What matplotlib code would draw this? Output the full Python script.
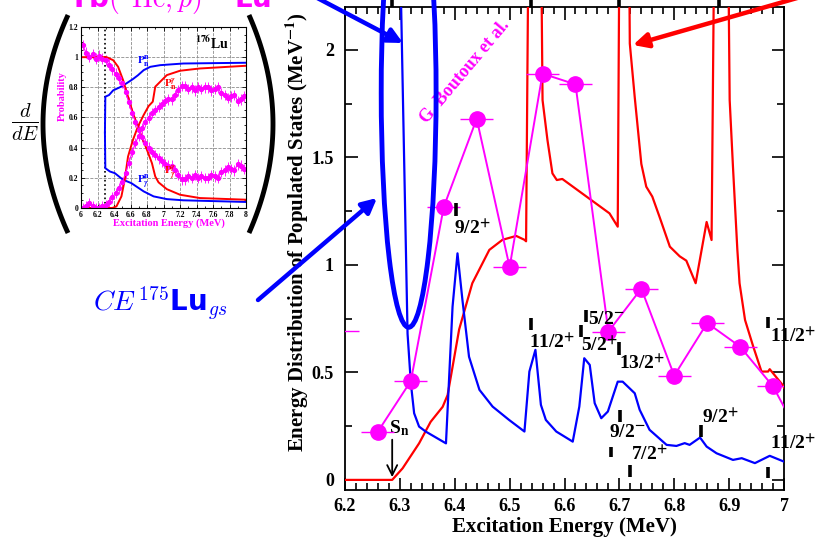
import matplotlib
matplotlib.use('Agg')
import matplotlib.pyplot as plt
from matplotlib.patches import Ellipse
from matplotlib.ticker import MultipleLocator, FuncFormatter
import numpy as np

plt.rcParams['font.family'] = ['Liberation Serif', 'DejaVu Serif']
plt.rcParams['font.weight'] = 'bold'
plt.rcParams['mathtext.fontset'] = 'custom'
plt.rcParams['mathtext.rm'] = 'cmr10'
plt.rcParams['mathtext.it'] = 'cmmi10'
plt.rcParams['mathtext.bf'] = 'DejaVu Sans:bold'

RED = '#ff0000'
BLUE = '#0000ff'
MAG = '#ff00ff'

# ---- main panel data ----
# measured distribution (G. Boutoux et al.)
exp_e = [6.26, 6.32, 6.38, 6.44, 6.50, 6.56, 6.62, 6.68, 6.74, 6.80, 6.86, 6.92, 6.98, 7.04]
exp_d = [0.225, 0.46, 1.27, 1.68, 0.99, 1.89, 1.84, 0.69, 0.89, 0.485, 0.73, 0.62, 0.435, 0.15]
exp_xerr = 0.03
exp_yerr = 0.015
# lone point below 6.2 MeV, only its error bar shows
left_e = [6.18]
left_d = [0.695]

# d/dE of P_n^gamma
red_e = [6.20, 6.286, 6.305, 6.335, 6.356, 6.378, 6.387, 6.408, 6.432, 6.463, 6.487, 6.512,
         6.527, 6.530, 6.545, 6.560, 6.569, 6.578, 6.586, 6.596, 6.682, 6.697, 6.708, 6.719,
         6.728, 6.740, 6.749, 6.760, 6.773, 6.792, 6.810, 6.822, 6.839, 6.859, 6.868, 6.885,
         6.901, 6.907, 6.915, 6.919, 6.929, 6.944, 6.959, 6.971, 6.974, 6.998, 7.00]
red_d = [0.0, 0.0, 0.054, 0.17, 0.27, 0.34, 0.395, 0.70, 0.915, 1.07, 1.117, 1.135,
         1.117, 1.11, 6.0, 1.767, 1.58, 1.426, 1.395, 1.40, 1.24, 1.178, 6.0, 2.03,
         1.78, 1.47, 1.364, 1.318, 1.225, 1.085, 1.04, 1.02, 0.915, 1.20, 1.116, 6.0,
         1.767, 1.457, 1.07, 0.915, 0.744, 0.62, 0.504, 0.504, 0.515, 0.44, 0.43]

# d/dE of CE 175Lu gs
blue_e = [6.300, 6.314, 6.320, 6.326, 6.335, 6.347, 6.384, 6.396, 6.405, 6.414, 6.426, 6.445,
          6.469, 6.499, 6.527, 6.536, 6.547, 6.557, 6.566, 6.585, 6.615, 6.627, 6.636, 6.646,
          6.655, 6.667, 6.679, 6.697, 6.706, 6.728, 6.737, 6.755, 6.786, 6.804, 6.819, 6.828,
          6.847, 6.859, 6.877, 6.907, 6.923, 6.947, 6.974, 7.000]
blue_d = [2.5, 0.68, 0.45, 0.31, 0.248, 0.225, 0.17, 0.806, 1.054, 0.837, 0.573, 0.419,
          0.341, 0.279, 0.225, 0.504, 0.605, 0.349, 0.279, 0.225, 0.178, 0.341, 0.566, 0.535,
          0.357, 0.287, 0.318, 0.457, 0.457, 0.403, 0.326, 0.233, 0.163, 0.158, 0.171, 0.163,
          0.197, 0.155, 0.124, 0.093, 0.101, 0.078, 0.112, 0.085]

# level markers: energy, bar bottom, bar top
lev_e = [6.402, 6.539, 6.640, 6.630, 6.699, 6.702, 6.684, 6.719, 6.849, 6.971, 6.971]
lev_lo = [1.228, 0.698, 0.735, 0.665, 0.581, 0.271, 0.108, 0.015, 0.200, 0.707, 0.009]
lev_hi = [1.288, 0.753, 0.790, 0.721, 0.643, 0.326, 0.155, 0.070, 0.256, 0.758, 0.060]
lev_top = [6.286, 6.539, 6.699, 6.882]

# spin labels: text, x, y
spin_txt = ['9/2$^{\\mathbf{+}}$', '11/2$^{\\mathbf{+}}$', '5/2$^{\\mathbf{-}}$', '5/2$^{\\mathbf{+}}$',
            '13/2$^{\\mathbf{+}}$', '9/2$^{\\mathbf{-}}$', '7/2$^{\\mathbf{+}}$', '9/2$^{\\mathbf{+}}$',
            '11/2$^{\\mathbf{+}}$', '11/2$^{\\mathbf{+}}$']
spin_x = [6.399, 6.536, 6.642, 6.630, 6.700, 6.682, 6.722, 6.850, 6.974, 6.974]
spin_y = [1.167, 0.637, 0.744, 0.623, 0.535, 0.219, 0.112, 0.288, 0.665, 0.163]

sn = 6.286

# ---- inset data (176Lu decay probabilities) ----
pnn_e = [6.29, 6.295, 6.34, 6.39, 6.47, 6.55, 6.63, 6.69, 6.76, 6.84, 6.96, 7.24, 8.0]
pnn_p = [0.50, 0.738, 0.749, 0.78, 0.80, 0.826, 0.855, 0.88, 0.914, 0.936, 0.947, 0.958, 0.963]
pgn_e = [6.29, 6.295, 6.35, 6.41, 6.51, 6.61, 6.67, 6.76, 6.88, 7.04, 7.24, 8.0]
pgn_p = [0.50, 0.264, 0.242, 0.231, 0.187, 0.165, 0.143, 0.11, 0.077, 0.059, 0.051, 0.04]
pgg_e = [6.0, 6.31, 6.39, 6.45, 6.51, 6.57, 6.63, 6.69, 6.735, 6.80, 6.86, 6.90, 6.94,
         7.04, 7.20, 7.44, 8.0]
pgg_p = [1.0, 1.0, 0.98, 0.936, 0.848, 0.738, 0.628, 0.54, 0.474, 0.385, 0.297, 0.209, 0.17,
         0.125, 0.088, 0.066, 0.055]
png_e = [6.0, 6.38, 6.43, 6.49, 6.53, 6.57, 6.63, 6.69, 6.76, 6.82, 6.87, 6.90, 6.94,
         7.04, 7.20, 7.44, 8.0]
png_p = [0.0, 0.0, 0.011, 0.077, 0.187, 0.341, 0.452, 0.54, 0.617, 0.676, 0.705, 0.804, 0.826,
         0.881, 0.91, 0.925, 0.943]

meas_e = [6.02, 6.06, 6.10, 6.14, 6.18, 6.22, 6.26, 6.30, 6.34, 6.38, 6.42, 6.46, 6.50,
          6.54, 6.58, 6.62, 6.66, 6.70, 6.74, 6.78, 6.82, 6.86, 6.90, 6.94, 6.98, 7.02,
          7.06, 7.10, 7.14, 7.18, 7.22, 7.26, 7.30, 7.34, 7.38, 7.42, 7.46, 7.50, 7.54,
          7.58, 7.62, 7.66, 7.70, 7.74, 7.78, 7.82, 7.86, 7.90, 7.94, 7.98]
meas_pg = [1.08, 1.03, 1.00, 1.02, 0.99, 1.01, 0.99, 0.98, 0.95, 0.92, 0.89, 0.86, 0.83,
           0.77, 0.70, 0.63, 0.57, 0.52, 0.47, 0.43, 0.40, 0.37, 0.35, 0.33, 0.31, 0.29,
           0.28, 0.28, 0.25, 0.22, 0.19, 0.19, 0.21, 0.20, 0.22, 0.20, 0.21, 0.20, 0.20,
           0.22, 0.21, 0.20, 0.24, 0.25, 0.27, 0.26, 0.25, 0.29, 0.28, 0.26]
meas_pn = [0.00, 0.01, 0.03, 0.01, 0.00, 0.00, 0.01, 0.02, 0.04, 0.07, 0.10, 0.13, 0.17,
           0.23, 0.30, 0.37, 0.43, 0.48, 0.53, 0.57, 0.60, 0.63, 0.65, 0.67, 0.69, 0.71,
           0.72, 0.72, 0.75, 0.78, 0.81, 0.81, 0.79, 0.80, 0.78, 0.80, 0.79, 0.80, 0.80,
           0.78, 0.79, 0.80, 0.76, 0.75, 0.73, 0.74, 0.75, 0.71, 0.72, 0.74]

W, H = 818, 542
fig = plt.figure(figsize=(W / 100, H / 100), dpi=100)
fmt = FuncFormatter(lambda v, p: '%g' % round(v, 3))

# ---------------- main axes ----------------
ax = fig.add_axes([345 / W, 1 - 490 / H, 439 / W, 483 / H])
ax.set_xlim(6.2, 7.0)
ax.set_ylim(-0.047, 2.2)
ax.xaxis.set_major_locator(MultipleLocator(0.1))
ax.xaxis.set_minor_locator(MultipleLocator(0.02))
ax.yaxis.set_major_locator(MultipleLocator(0.5))
ax.yaxis.set_minor_locator(MultipleLocator(0.25))
ax.xaxis.set_major_formatter(fmt)
ax.yaxis.set_major_formatter(fmt)
ax.tick_params(which='both', direction='in', top=True, right=True, width=1.2, labelsize=13)
ax.tick_params(which='major', length=9)
ax.tick_params(which='minor', length=5)
ax.tick_params(axis='x', pad=6)
ax.tick_params(axis='y', pad=8)
for s in ax.spines.values():
    s.set_linewidth(1.3)

ax.plot(red_e, red_d, color=RED, lw=1.6, zorder=3)
ax.plot(blue_e, blue_d, color=BLUE, lw=1.6, zorder=3)
ax.errorbar(exp_e, exp_d, xerr=exp_xerr, yerr=exp_yerr, color=MAG, lw=1.4, elinewidth=1.0,
            marker='o', ms=11, zorder=4)
ax.errorbar(left_e, left_d, xerr=0.045, color=MAG, lw=1.0, fmt='none', zorder=4)

ax.vlines(lev_e, lev_lo, lev_hi, color='black', lw=2.6, zorder=5)
ax.vlines(lev_top, 2.2, 2.26, color='black', lw=2.6, clip_on=False, zorder=5)
for t, x, y in zip(spin_txt, spin_x, spin_y):
    ax.text(x, y, t, fontsize=14, ha='left', va='center', math_fontfamily='stix', zorder=6)

ax.text(sn - 0.006, 0.242, 'S$_{\\mathbf{n}}$', fontsize=14, ha='left', va='center',
        math_fontfamily='stix')
ax.annotate('', xy=(sn, 0.0), xytext=(sn, 0.20),
            arrowprops=dict(arrowstyle='->', color='black', lw=1.3, mutation_scale=18))

ax.text(6.419, 1.90, 'G. Boutoux et al.', color=MAG, fontsize=13, rotation=50,
        ha='center', va='center')

ax.add_patch(Ellipse((6.316, 1.80), 0.100, 2.18, fill=False, ec=BLUE, lw=3.5,
                     clip_on=False, zorder=6))

fig.text(564 / W, 1 - 527 / H, 'Excitation Energy (MeV)', fontsize=15, ha='center',
         va='center')
fig.text(297 / W, 1 - 232 / H, 'Energy Distribution of Populated States (MeV$^{\\mathbf{-1}}$)',
         fontsize=15, rotation=90, ha='center', va='center', math_fontfamily='stix')

# ---------------- inset ----------------
ins = fig.add_axes([81 / W, 1 - 208 / H, 165 / W, 181 / H])
ins.set_xlim(6, 8)
ins.set_ylim(0, 1.2)
ins.xaxis.set_major_locator(MultipleLocator(0.2))
ins.yaxis.set_major_locator(MultipleLocator(0.2))
ins.xaxis.set_minor_locator(MultipleLocator(0.1))
ins.yaxis.set_minor_locator(MultipleLocator(0.05))
ins.xaxis.set_major_formatter(fmt)
ins.yaxis.set_major_formatter(fmt)
ins.grid(True, ls='--', color='0.55', lw=0.6)
ins.tick_params(which='both', direction='in', top=True, right=True, labelsize=5.5, pad=2,
                width=0.6)
ins.tick_params(which='major', length=3)
ins.tick_params(which='minor', length=1.5)
ins.axvline(sn, color='black', ls=':', lw=1.2)
ins.errorbar(meas_e, meas_pg, yerr=0.035, xerr=0.01, color=MAG, marker='o', ms=2.8, lw=0.8,
             elinewidth=0.6)
ins.errorbar(meas_e, meas_pn, yerr=0.035, xerr=0.01, color=MAG, marker='o', ms=2.8, lw=0.8,
             elinewidth=0.6)
ins.plot(pnn_e, pnn_p, color=BLUE, lw=1.4)
ins.plot(pgn_e, pgn_p, color=BLUE, lw=1.4)
ins.plot(pgg_e, pgg_p, color=RED, lw=1.4)
ins.plot(png_e, png_p, color=RED, lw=1.4)
ins.text(6.68, 0.97, '$\\mathbf{P}_{\\mathbf{n}}^{\\mathbf{n}}$', color=BLUE, fontsize=8,
         math_fontfamily='stix', va='center')
ins.text(6.68, 0.17, '$\\mathbf{P}_{\\gamma}^{\\mathbf{n}}$', color=BLUE, fontsize=8,
         math_fontfamily='stix', va='center')
ins.text(7.0, 0.82, '$\\mathbf{P}_{\\mathbf{n}}^{\\gamma}$', color=RED, fontsize=8,
         math_fontfamily='stix', va='center')
ins.text(7.0, 0.23, '$\\mathbf{P}_{\\gamma}^{\\gamma}$', color=RED, fontsize=8,
         math_fontfamily='stix', va='center')
ins.text(7.38, 1.09, '$^{\\mathbf{176}}$Lu', fontsize=10, math_fontfamily='stix', va='center')
fig.text(62 / W, 1 - 96 / H, 'Probability', color=MAG, fontsize=7.5, rotation=90,
         ha='center', va='center')
fig.text(169 / W, 1 - 223 / H, 'Excitation Energy (MeV)', color=MAG, fontsize=7.5,
         ha='center', va='center')

# ---------------- annotations in figure pixels ----------------
ov = fig.add_axes([0, 0, 1, 1], zorder=10)
ov.set_xlim(0, W)
ov.set_ylim(H, 0)
ov.axis('off')
ov.patch.set_alpha(0)

t = np.linspace(-1, 1, 60)
ov.plot(43 + 25 * t ** 2, 124 + 109 * t, color='black', lw=3.5, solid_capstyle='butt')
ov.plot(273 - 24 * t ** 2, 124 + 109 * t, color='black', lw=3.5, solid_capstyle='butt')
ov.text(25, 122, '$\\frac{d}{dE}$', fontsize=21, ha='center', va='center',
        math_fontfamily='custom')

ov.text(36, 8, '$^{174}\\mathbf{Yb}(^{3}\\mathrm{He},p)^{176}\\mathbf{Lu}$', color=MAG,
        fontsize=20, ha='left', va='baseline', math_fontfamily='custom')
ov.text(93, 311, '$CE\\,{}^{175}\\mathbf{Lu}_{gs}$', color=BLUE, fontsize=20, ha='left',
        va='baseline', math_fontfamily='custom')

arrow_kw = dict(arrowstyle='-|>', lw=3.2, mutation_scale=22, shrinkA=0, shrinkB=0)
ov.annotate('', xy=(377, 198), xytext=(258, 300), annotation_clip=False,
            arrowprops=dict(color=BLUE, **arrow_kw))
ov.annotate('', xy=(403, 43), xytext=(245, -40), annotation_clip=False,
            arrowprops=dict(color=BLUE, **arrow_kw))
ov.annotate('', xy=(633, 45), xytext=(860, -20), annotation_clip=False,
            arrowprops=dict(color=RED, **arrow_kw))

fig.savefig('out.png', dpi=100)
